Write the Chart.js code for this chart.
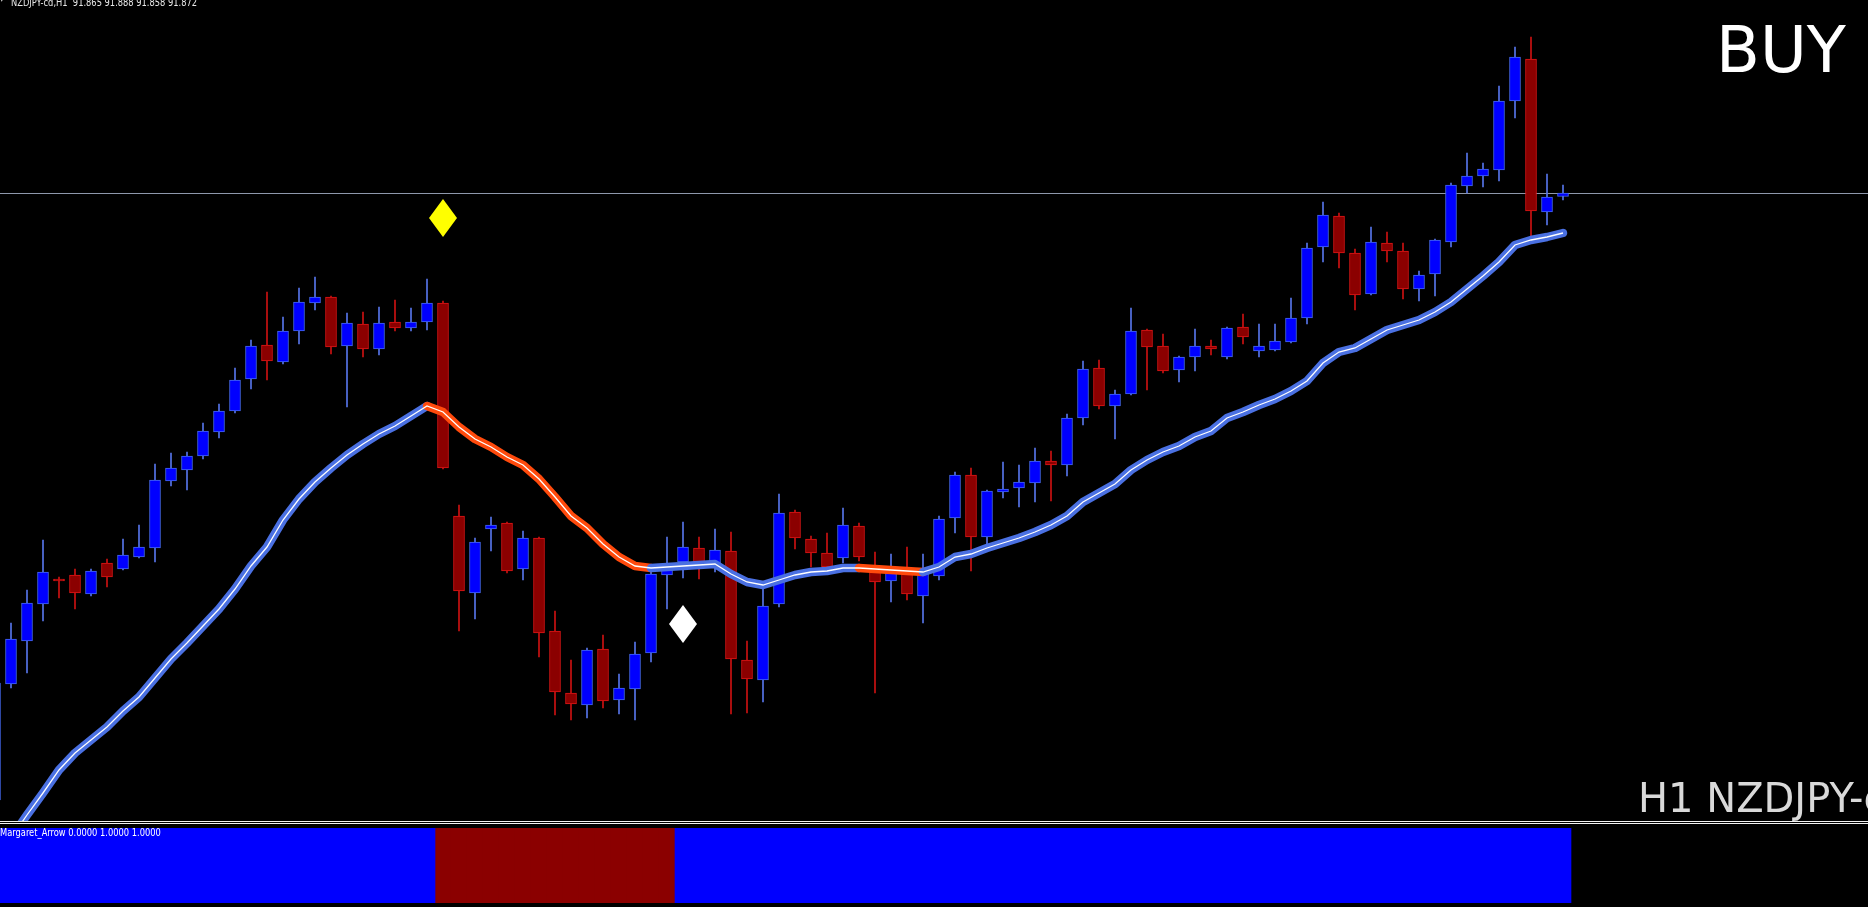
<!DOCTYPE html>
<html>
<head>
<meta charset="utf-8">
<title>NZDJPY-cd,H1</title>
<script src="https://cdn.jsdelivr.net/npm/chart.js@4.4.1/dist/chart.umd.min.js"></script>
<style>
  html, body { margin: 0; padding: 0; background: #000; width: 1868px; height: 907px; overflow: hidden; }
  #main { position: absolute; left: 0; top: 0; }
  #ind { position: absolute; left: 0; top: 828px; }
  .sep { position: absolute; left: 0; width: 1868px; height: 1px; background: #f2f2f2; }
  .lbl { position: absolute; white-space: nowrap; line-height: normal; }
  .small { font: 11px "DejaVu Sans Condensed", sans-serif; color: #e8e8e8; transform: scaleX(0.84); transform-origin: 0 0; }
  .big { font-family: "DejaVu Sans", sans-serif; }
</style>
</head>
<body>
<canvas id="main" width="1868" height="821"></canvas>
<div class="sep" style="top:821px"></div>
<div class="sep" style="top:823px"></div>
<canvas id="ind" width="1868" height="75"></canvas>

<div class="lbl small" style="left:0;top:-5px;font-size:6px">&#9660;</div>
<div class="lbl small" style="left:11px;top:-4px">NZDJPY-cd,H1&nbsp; 91.865 91.888 91.858 91.872</div>
<div class="lbl big" style="left:1716px;top:13px;font-size:64px;color:#ffffff">BUY</div>
<div class="lbl big" style="left:1638px;top:775px;font-size:40px;color:#d9d9d9">H1 NZDJPY-cd</div>
<div class="lbl small" style="left:0;top:826px;color:#ffffff">Margaret_Arrow 0.0000 1.0000 1.0000</div>

<script>
// H1 candles, first one (index -1) is only partly on screen
const firstBar = -1;

const opens = [
  90.658, 90.890, 90.976, 91.050, 91.100, 91.108, 91.070, 91.132, 91.120, 91.144,
  91.162, 91.296, 91.318, 91.346, 91.394, 91.436, 91.500, 91.568, 91.534, 91.596,
  91.652, 91.664, 91.566, 91.610, 91.560, 91.614, 91.602, 91.614, 91.652, 91.226,
  91.072, 91.200, 91.212, 91.120, 91.182, 90.996, 90.872, 90.848, 90.960, 90.858,
  90.880, 90.952, 91.108, 91.134, 91.162, 91.132, 91.156, 90.938, 90.898, 91.050,
  91.234, 91.180, 91.152, 91.142, 91.206, 91.118, 91.096, 91.122, 91.066, 91.106,
  91.222, 91.308, 91.184, 91.274, 91.282, 91.292, 91.336, 91.328, 91.422, 91.522,
  91.446, 91.470, 91.598, 91.566, 91.518, 91.544, 91.566, 91.544, 91.604, 91.556,
  91.558, 91.574, 91.622, 91.764, 91.826, 91.752, 91.670, 91.772, 91.756, 91.680,
  91.710, 91.774, 91.886, 91.906, 91.918, 92.056, 92.140, 91.834, 91.865
];
const highs = [
  90.898, 91.012, 91.078, 91.178, 91.104, 91.120, 91.120, 91.140, 91.180, 91.208,
  91.330, 91.352, 91.354, 91.412, 91.450, 91.522, 91.578, 91.674, 91.624, 91.682,
  91.704, 91.666, 91.632, 91.634, 91.644, 91.658, 91.642, 91.700, 91.656, 91.248,
  91.182, 91.224, 91.214, 91.196, 91.184, 91.036, 90.938, 90.962, 90.988, 90.910,
  90.974, 91.114, 91.184, 91.214, 91.184, 91.200, 91.194, 90.976, 91.082, 91.270,
  91.238, 91.186, 91.192, 91.242, 91.212, 91.154, 91.150, 91.164, 91.150, 91.226,
  91.314, 91.322, 91.278, 91.334, 91.328, 91.362, 91.356, 91.430, 91.536, 91.538,
  91.478, 91.642, 91.600, 91.590, 91.546, 91.600, 91.578, 91.604, 91.630, 91.610,
  91.610, 91.662, 91.772, 91.854, 91.832, 91.760, 91.804, 91.794, 91.772, 91.716,
  91.780, 91.892, 91.952, 91.932, 92.086, 92.164, 92.184, 91.910, 91.888
];
const lows = [
  90.654, 90.882, 90.912, 91.016, 91.062, 91.040, 91.066, 91.084, 91.118, 91.142,
  91.134, 91.286, 91.278, 91.340, 91.382, 91.432, 91.480, 91.498, 91.530, 91.570,
  91.638, 91.550, 91.444, 91.544, 91.548, 91.596, 91.596, 91.598, 91.320, 90.996,
  91.020, 91.156, 91.112, 91.098, 90.944, 90.828, 90.818, 90.822, 90.842, 90.830,
  90.818, 90.934, 91.040, 91.102, 91.100, 91.114, 90.830, 90.832, 90.854, 91.044,
  91.160, 91.124, 91.122, 91.132, 91.136, 90.872, 91.054, 91.058, 91.012, 91.098,
  91.192, 91.116, 91.164, 91.262, 91.244, 91.254, 91.256, 91.306, 91.408, 91.440,
  91.380, 91.468, 91.478, 91.512, 91.494, 91.516, 91.548, 91.540, 91.570, 91.544,
  91.556, 91.572, 91.610, 91.734, 91.722, 91.638, 91.668, 91.734, 91.660, 91.656,
  91.666, 91.764, 91.872, 91.884, 91.896, 92.022, 91.778, 91.808, 91.858
];
const closes = [
  90.892, 90.980, 91.052, 91.114, 91.096, 91.072, 91.116, 91.104, 91.148, 91.164,
  91.298, 91.322, 91.346, 91.396, 91.436, 91.498, 91.566, 91.536, 91.596, 91.654,
  91.664, 91.564, 91.612, 91.560, 91.612, 91.602, 91.614, 91.652, 91.322, 91.076,
  91.174, 91.208, 91.116, 91.182, 90.992, 90.874, 90.850, 90.958, 90.856, 90.882,
  90.950, 91.110, 91.124, 91.164, 91.134, 91.158, 90.940, 90.900, 91.046, 91.232,
  91.182, 91.152, 91.124, 91.208, 91.144, 91.094, 91.112, 91.070, 91.122, 91.220,
  91.308, 91.184, 91.276, 91.280, 91.294, 91.336, 91.328, 91.422, 91.520, 91.446,
  91.470, 91.596, 91.564, 91.516, 91.544, 91.566, 91.560, 91.602, 91.584, 91.566,
  91.576, 91.622, 91.762, 91.828, 91.752, 91.668, 91.774, 91.756, 91.680, 91.708,
  91.778, 91.888, 91.906, 91.920, 92.056, 92.144, 91.836, 91.864, 91.872
];

// moving average and its colour state (1 = falling leg, drawn orange-red)
const maValues = [
  90.534, 90.582, 90.628, 90.672, 90.718, 90.752, 90.778, 90.804, 90.836, 90.864,
  90.902, 90.940, 90.972, 91.006, 91.040, 91.080, 91.126, 91.164, 91.218, 91.260,
  91.294, 91.322, 91.348, 91.370, 91.390, 91.406, 91.426, 91.446, 91.434, 91.404,
  91.380, 91.364, 91.344, 91.328, 91.300, 91.264, 91.226, 91.202, 91.170, 91.144,
  91.126, 91.122, 91.124, 91.126, 91.128, 91.130, 91.110, 91.094, 91.088, 91.098,
  91.108, 91.114, 91.116, 91.122, 91.122, 91.120, 91.118, 91.116, 91.114, 91.124,
  91.144, 91.150, 91.162, 91.172, 91.182, 91.194, 91.208, 91.226, 91.254, 91.272,
  91.290, 91.318, 91.338, 91.354, 91.366, 91.384, 91.396, 91.422, 91.434, 91.448,
  91.460, 91.476, 91.496, 91.532, 91.554, 91.562, 91.580, 91.598, 91.608, 91.618,
  91.634, 91.654, 91.680, 91.706, 91.734, 91.768, 91.778, 91.784, 91.792
];
const maDown = [
  0,0,0,0,0,0,0,0,0,0, 0,0,0,0,0,0,0,0,0,0, 0,0,0,0,0,0,0,0,1,1,
  1,1,1,1,1,1,1,1,1,1, 1,1,0,0,0,0,0,0,0,0, 0,0,0,0,0,1,1,1,1,0,
  0,0,0,0,0,0,0,0,0,0, 0,0,0,0,0,0,0,0,0,0, 0,0,0,0,0,0,0,0,0,0,
  0,0,0,0,0,0,0,0,0
];

// Margaret_Arrow sub-window: 1 = buy state, -1 = sell state
const arrowDir = [
  1,1,1,1,1,1,1,1,1,1, 1,1,1,1,1,1,1,1,1,1, 1,1,1,1,1,1,1,1,-1,-1,
  -1,-1,-1,-1,-1,-1,-1,-1,-1,-1, -1,-1,-1,1,1,1,1,1,1,1, 1,1,1,1,1,1,1,1,1,1,
  1,1,1,1,1,1,1,1,1,1, 1,1,1,1,1,1,1,1,1,1, 1,1,1,1,1,1,1,1,1,1,
  1,1,1,1,1,1,1,1,1
];

// signal diamonds: [bar, price]
const sellSignals = [[27, 91.822]];
const buySignals = [[42, 91.010]];

const bidPrice = 91.872;
const xMin = -0.6875, xMax = 116.0625;
const yMax = 92.258, yMin = 90.616;

const UP_FILL = '#0000ff', UP_LINE = '#4468ee';
const DN_FILL = '#8b0000', DN_LINE = '#dd1515';

const barX = i => i + firstBar;
const isUp = i => closes[i] >= opens[i];

function diamond(color, w, h) {
  const c = document.createElement('canvas');
  c.width = w; c.height = h;
  const g = c.getContext('2d');
  g.fillStyle = color;
  g.beginPath();
  g.moveTo(w / 2, 0); g.lineTo(w, h / 2); g.lineTo(w / 2, h); g.lineTo(0, h / 2);
  g.closePath(); g.fill();
  return c;
}

const bidLine = {
  id: 'bidLine',
  beforeDatasetsDraw(chart) {
    const { ctx, chartArea, scales } = chart;
    const py = Math.round(scales.y.getPixelForValue(bidPrice)) + 0.5;
    ctx.save();
    ctx.strokeStyle = '#8e98ac';
    ctx.lineWidth = 1;
    ctx.beginPath();
    ctx.moveTo(chartArea.left, py);
    ctx.lineTo(chartArea.right, py);
    ctx.stroke();
    ctx.restore();
  }
};

const maPoints = maValues.map((v, i) => ({ x: barX(i), y: v }));
const maColor = ctx => maDown[ctx.p1DataIndex] ? '#ff4a0c' : '#4a70e2';

const panelOptions = (yLo, yHi) => ({
  responsive: false,
  animation: false,
  events: [],
  layout: { padding: 0, autoPadding: false },
  plugins: { legend: { display: false }, tooltip: { enabled: false } },
  scales: {
    x: { type: 'linear', min: xMin, max: xMax, offset: false, display: false },
    y: { type: 'linear', min: yLo, max: yHi, beginAtZero: false, display: false }
  }
});

new Chart(document.getElementById('main'), {
  type: 'bar',
  data: {
    datasets: [
      {
        label: 'wicks',
        data: lows.map((l, i) => ({ x: barX(i), y: [l, highs[i]] })),
        backgroundColor: opens.map((o, i) => isUp(i) ? '#5674e8' : '#cc1212'),
        barThickness: 1,
        grouped: false,
        order: 6
      },
      {
        label: 'bodies',
        data: opens.map((o, i) => ({ x: barX(i), y: [o, closes[i]] })),
        backgroundColor: opens.map((o, i) => isUp(i) ? UP_FILL : DN_FILL),
        borderColor: opens.map((o, i) => isUp(i) ? UP_LINE : DN_LINE),
        borderWidth: 1,
        borderSkipped: false,
        barThickness: 11,
        minBarLength: 2,
        grouped: false,
        order: 5
      },
      {
        type: 'line',
        label: 'MA',
        data: maPoints,
        borderWidth: 8.5,
        borderColor: '#4a70e2',
        segment: { borderColor: maColor },
        borderCapStyle: 'round',
        borderJoinStyle: 'round',
        pointRadius: 0,
        tension: 0,
        order: 4
      },
      {
        type: 'line',
        label: 'MA core',
        data: maPoints,
        borderWidth: 1.3,
        borderColor: '#ffffff',
        pointRadius: 0,
        tension: 0,
        order: 3
      },
      {
        type: 'scatter',
        label: 'sell',
        data: sellSignals.map(s => ({ x: s[0], y: s[1] })),
        pointStyle: diamond('#ffff00', 28, 38),
        order: 2
      },
      {
        type: 'scatter',
        label: 'buy',
        data: buySignals.map(s => ({ x: s[0], y: s[1] })),
        pointStyle: diamond('#ffffff', 28, 38),
        order: 1
      }
    ]
  },
  options: panelOptions(yMin, yMax),
  plugins: [bidLine]
});

new Chart(document.getElementById('ind'), {
  type: 'bar',
  data: {
    datasets: [
      {
        label: 'buy',
        data: arrowDir.map((d, i) => ({ x: barX(i), y: d > 0 ? 1 : null })),
        backgroundColor: '#0000ff',
        barThickness: 16,
        grouped: false
      },
      {
        label: 'sell',
        data: arrowDir.map((d, i) => ({ x: barX(i), y: d < 0 ? 1 : null })),
        backgroundColor: '#8b0000',
        barThickness: 16,
        grouped: false
      }
    ]
  },
  options: panelOptions(0, 1)
});
</script>
</body>
</html>
